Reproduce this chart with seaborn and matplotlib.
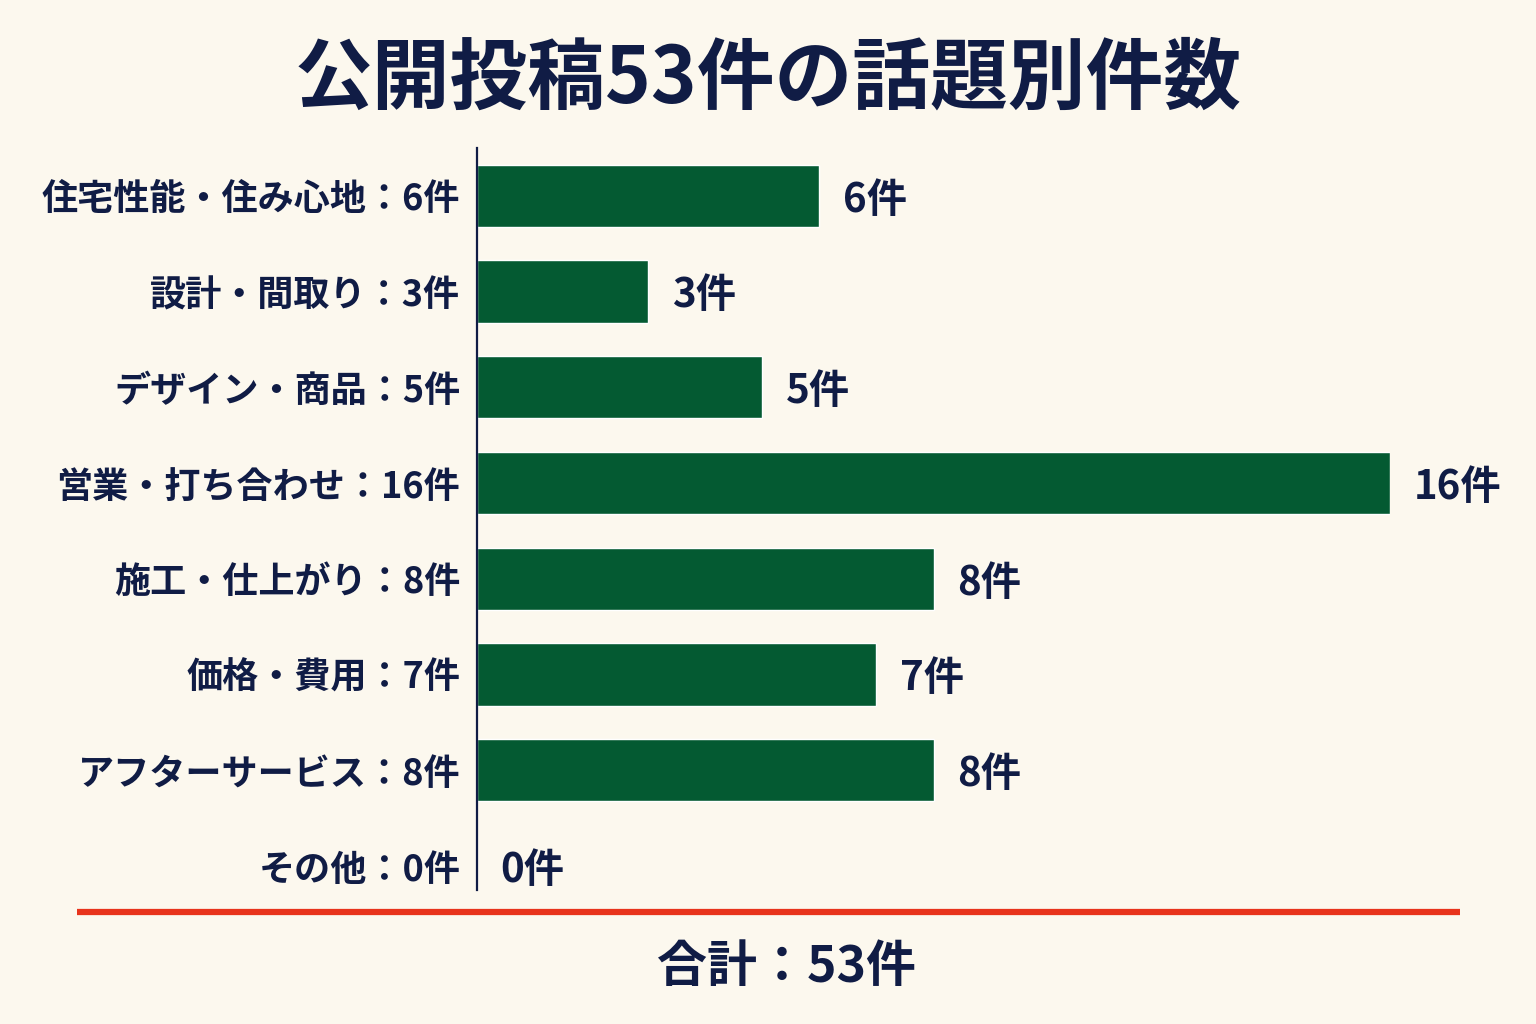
import pandas as pd
import matplotlib.pyplot as plt
import seaborn as sns

# データ
topics = ['住宅性能・住み心地', '設計・間取り', 'デザイン・商品', '営業・打ち合わせ',
          '施工・仕上がり', '価格・費用', 'アフターサービス', 'その他']
counts = [6, 3, 5, 16, 8, 7, 8, 0]
total = 53

bg = '#fcf8ee'
navy = '#101c45'
green = '#045a32'
red = '#e8341c'

sns.set_theme(style='white')
plt.rcParams['font.family'] = ['Noto Sans CJK JP', 'DejaVu Sans']

df = pd.DataFrame({'話題': [f'{t}：{c}件' for t, c in zip(topics, counts)], '件数': counts})

fig = plt.figure(figsize=(15.36, 10.24), dpi=100, facecolor=bg)
ax = fig.add_axes([477 / 1536, 1 - 890 / 1024, (1390 - 477) / 1536, (890 - 148) / 1024])
ax.set_facecolor(bg)

sns.barplot(data=df, x='件数', y='話題', color=green, width=0.65, saturation=1, ax=ax)

ax.set_xlim(0, 16)
ax.set_ylim(7.25, -0.5)
ax.set_xlabel('')
ax.set_ylabel('')
ax.set_xticks([])
for s in ['top', 'right', 'bottom']:
    ax.spines[s].set_visible(False)
ax.spines['left'].set_color(navy)
ax.spines['left'].set_linewidth(1.6)
ax.tick_params(axis='y', length=0, pad=12)
for lab in ax.get_yticklabels():
    lab.set_fontsize(26)
    lab.set_fontweight('bold')
    lab.set_color(navy)

for i, c in enumerate(counts):
    ax.annotate(f'{c}件', xy=(c, i), xytext=(17, -3), textcoords='offset points',
                va='center', ha='left', fontsize=29, fontweight='bold', color=navy,
                annotation_clip=False)

fig.text(0.5, 1 - 80 / 1024, '公開投稿53件の話題別件数', ha='center', va='center',
         fontsize=56, fontweight='bold', color=navy)

fig.add_artist(plt.Line2D([77 / 1536, 1460 / 1536], [1 - 912 / 1024] * 2,
                          color=red, linewidth=4.5, solid_capstyle='butt'))

fig.text(787 / 1536, 1 - 967 / 1024, f'合計：{total}件', ha='center', va='center',
         fontsize=36, fontweight='bold', color=navy)

fig.savefig('out.png', dpi=100, facecolor=bg)
